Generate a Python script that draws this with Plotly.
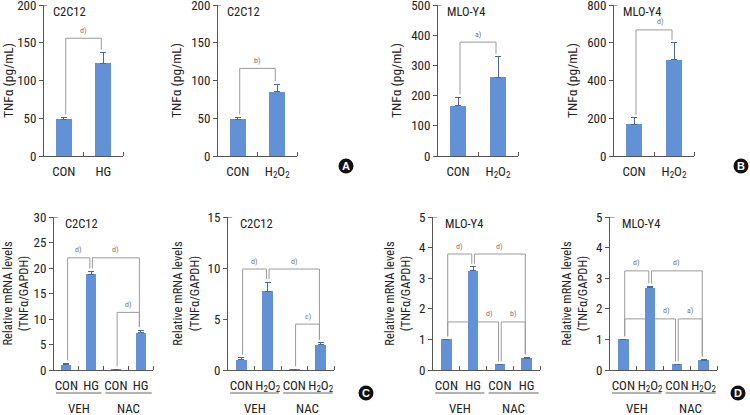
import plotly.graph_objects as go

# ---------------- data ----------------
H2O2 = "H<sub>2</sub>O<sub>2</sub>"
cats_top_hg = ["CON", "HG"]
cats_top_h2o2 = ["CON", H2O2]
cats_bot_hg = ["CON", "HG", "CON", "HG"]
cats_bot_h2o2 = ["CON", H2O2, "CON", H2O2]
groups = ["VEH", "NAC"]

# TNFa protein (pg/mL)
c2c12_hg_prot = [49, 123]
c2c12_hg_prot_err = [2, 14]
c2c12_h2o2_prot = [49, 85]
c2c12_h2o2_prot_err = [2, 10]
mlo_h2o2_prot_a = [167, 260]
mlo_h2o2_prot_a_err = [28, 68]
mlo_h2o2_prot_b = [167, 510]
mlo_h2o2_prot_b_err = [35, 90]

# TNFa mRNA relative to GAPDH (VEH CON, VEH trt, NAC CON, NAC trt)
c2c12_hg_mrna = [1.0, 18.8, 0.12, 7.3]
c2c12_hg_mrna_err = [0.3, 0.5, 0.0, 0.5]
c2c12_h2o2_mrna = [1.0, 7.7, 0.05, 2.5]
c2c12_h2o2_mrna_err = [0.2, 0.9, 0.0, 0.15]
mlo_hg_mrna = [1.0, 3.25, 0.18, 0.38]
mlo_hg_mrna_err = [0.0, 0.12, 0.0, 0.03]
mlo_h2o2_mrna = [1.0, 2.68, 0.18, 0.32]
mlo_h2o2_mrna_err = [0.0, 0.05, 0.0, 0.02]

# significance brackets: (from, to, height, label, label x or None)
br_c2c12_hg_prot = [(0, 1, 156, "d)", None)]
br_c2c12_h2o2_prot = [(0, 1, 116, "b)", None)]
br_mlo_prot_a = [(0, 1, 377, "a)", None)]
br_mlo_prot_b = [(0, 1, 668, "d)", 0.65)]
br_c2c12_hg_mrna = [(0, 1, 22, "d)", None), (1, 3, 22, "d)", None), (2, 3, 11.3, "d)", None)]
br_c2c12_h2o2_mrna = [(0, 1, 9.9, "d)", None), (1, 3, 9.9, "d)", None), (2, 3, 4.5, "c)", None)]
br_mlo_hg_mrna = [(0, 1, 3.79, "d)", None), (1, 3, 3.79, "d)", None),
                  (0, 2, 1.57, "d)", 1.6), (2, 3, 1.57, "b)", None)]
br_mlo_h2o2_mrna = [(0, 1, 3.24, "d)", None), (1, 3, 3.24, "d)", None),
                    (0, 2, 1.67, "d)", 1.6), (2, 3, 1.67, "a)", None)]

W, H = 750, 415
BAR = "#6391d6"
AX = "#555555"
BR = "#9a9a9a"
FONT = ("Roboto Condensed, Liberation Sans Narrow, Noto Sans Condensed, "
        "DejaVu Sans Condensed, Roboto, sans-serif")

top_y = (5, 156)
bot_y = (217, 370)
panels = [
    dict(v=c2c12_hg_prot, e=c2c12_hg_prot_err, cats=cats_top_hg, ymax=200, dt=50,
         title="C2C12", ytitle="TNFα (pg/mL)", br=br_c2c12_hg_prot, px=(44, 123), py=top_y),
    dict(v=c2c12_h2o2_prot, e=c2c12_h2o2_prot_err, cats=cats_top_h2o2, ymax=200, dt=50,
         title="C2C12", ytitle="TNFα (pg/mL)", br=br_c2c12_h2o2_prot, px=(218, 297), py=top_y),
    dict(v=mlo_h2o2_prot_a, e=mlo_h2o2_prot_a_err, cats=cats_top_h2o2, ymax=500, dt=100,
         title="MLO-Y4", ytitle="TNFα (pg/mL)", br=br_mlo_prot_a, px=(438, 518), py=top_y),
    dict(v=mlo_h2o2_prot_b, e=mlo_h2o2_prot_b_err, cats=cats_top_h2o2, ymax=800, dt=200,
         title="MLO-Y4", ytitle="TNFα (pg/mL)", br=br_mlo_prot_b, px=(614, 694), py=top_y),
    dict(v=c2c12_hg_mrna, e=c2c12_hg_mrna_err, cats=cats_bot_hg, ymax=30, dt=5,
         title="C2C12", ytitle="Relative mRNA levels<br>(TNFα/GAPDH)", br=br_c2c12_hg_mrna,
         px=(54, 153), py=bot_y),
    dict(v=c2c12_h2o2_mrna, e=c2c12_h2o2_mrna_err, cats=cats_bot_h2o2, ymax=15, dt=5,
         title="C2C12", ytitle="Relative mRNA levels<br>(TNFα/GAPDH)", br=br_c2c12_h2o2_mrna,
         px=(228, 334), py=bot_y),
    dict(v=mlo_hg_mrna, e=mlo_hg_mrna_err, cats=cats_bot_hg, ymax=5, dt=1,
         title="MLO-Y4", ytitle="Relative mRNA levels<br>(TNFα/GAPDH)", br=br_mlo_hg_mrna,
         px=(433, 540), py=bot_y),
    dict(v=mlo_h2o2_mrna, e=mlo_h2o2_mrna_err, cats=cats_bot_h2o2, ymax=5, dt=1,
         title="MLO-Y4", ytitle="Relative mRNA levels<br>(TNFα/GAPDH)", br=br_mlo_h2o2_mrna,
         px=(610, 717), py=bot_y),
]

fig = go.Figure()
shapes, annos = [], []
tfont = dict(size=13, color="#222")

for k, p in enumerate(panels, start=1):
    suf = "" if k == 1 else str(k)
    xa, ya = "x" + suf, "y" + suf
    xkey, ykey = "xaxis" + suf, "yaxis" + suf
    n = len(p["v"])
    xs = list(range(n))
    top = k <= 4
    fig.add_trace(go.Bar(
        x=xs, y=p["v"], width=0.4, marker=dict(color=BAR, line=dict(width=0)),
        error_y=dict(type="data", symmetric=False, array=p["e"], arrayminus=[0] * n,
                     color="#4a6a9c", thickness=1, width=3),
        xaxis=xa, yaxis=ya, showlegend=False))
    fig.update_layout({
        xkey: dict(domain=[p["px"][0] / W, p["px"][1] / W], anchor=ya, automargin=False,
                   range=[-0.5, n - 0.5], tickmode="array", tickvals=xs, ticktext=p["cats"],
                   ticks="", showline=True, linecolor=AX, linewidth=1, showgrid=False,
                   zeroline=False, fixedrange=True, ticklabelstandoff=3, tickangle=0,
                   tickfont=tfont, ticklabeloverflow="allow",
                   minor=dict(tickmode="array", tickvals=[i + 0.5 for i in range(n)],
                              ticks="inside", ticklen=4, tickcolor=AX, showgrid=False)),
        ykey: dict(domain=[1 - p["py"][1] / H, 1 - p["py"][0] / H], anchor=xa, automargin=False,
                   range=[0, p["ymax"]], dtick=p["dt"], tick0=0, ticks="outside",
                   ticklen=4, tickcolor=AX, showline=True, linecolor=AX, linewidth=1,
                   showgrid=False, zeroline=False, tickfont=tfont, ticklabeloverflow="allow",
                   fixedrange=True,
                   title=dict(text=p["ytitle"], standoff=6 if top else 5,
                              font=dict(size=13.5 if top else 12.5, color="#222"))),
    })
    # little mark at the top of the y axis
    shapes.append(dict(type="line", xref=f"{xa} domain", yref=ya, x0=0, x1=0.04,
                       y0=p["ymax"], y1=p["ymax"], line=dict(color=AX, width=1)))
    annos.append(dict(text=p["title"], xref=f"{xa} domain", yref=f"{ya} domain",
                      x=0.09, y=0.955, xanchor="left", yanchor="middle", showarrow=False,
                      font=dict(size=12.5, color="#222")))
    gap = p["ymax"] * 0.02
    for (i, j, h, lab, lx) in p["br"]:
        xl, xr = i + 0.05, j - 0.05
        yl = p["v"][i] + p["e"][i] + gap
        yr = p["v"][j] + p["e"][j] + gap
        path = f"M {xl},{yl} L {xl},{h} L {xr},{h} L {xr},{yr}"
        shapes.append(dict(type="path", path=path, xref=xa, yref=ya, layer="below",
                           line=dict(color=BR, width=1)))
        annos.append(dict(text=lab, xref=xa, yref=ya, x=(i + j) / 2 if lx is None else lx,
                          y=h, yshift=8, showarrow=False, font=dict(size=8, color="#777")))
    # group underline and labels for the mRNA panels
    if n == 4:
        for g, (a, b) in enumerate([(-0.42, 1.42), (1.58, 3.45)]):
            shapes.append(dict(type="line", xref=xa, yref="paper", x0=a, x1=b,
                               y0=1 - 393 / H, y1=1 - 393 / H, line=dict(color=BR, width=1.5)))
            annos.append(dict(text=groups[g], xref=xa, yref="paper", x=2 * g + 0.5,
                              y=1 - 408 / H, yanchor="middle", showarrow=False, font=tfont))

# panel letters
for letter, cx, cy in [("A", 346, 166), ("B", 741, 166), ("C", 366, 393), ("D", 738, 393)]:
    r = 7.5
    shapes.append(dict(type="circle", xref="paper", yref="paper",
                       x0=(cx - r) / W, x1=(cx + r) / W, y0=1 - (cy + r) / H, y1=1 - (cy - r) / H,
                       fillcolor="#111", line=dict(width=0)))
    annos.append(dict(text=f"<b>{letter}</b>", xref="paper", yref="paper", x=cx / W,
                      y=1 - cy / H, xanchor="center", yanchor="middle", showarrow=False,
                      font=dict(size=11, color="white", family="Arial, sans-serif")))

fig.update_layout(
    width=W, height=H, margin=dict(l=0, r=0, t=0, b=0, autoexpand=False),
    paper_bgcolor="white", plot_bgcolor="white",
    font=dict(family=FONT, color="#222"),
    shapes=shapes, annotations=annos, bargap=0,
)
# drop the default page margin so the figure sits at the window's corner
fig.write_html("out.html", config={"displayModeBar": False},
               post_script="document.body.style.margin='0px';")
